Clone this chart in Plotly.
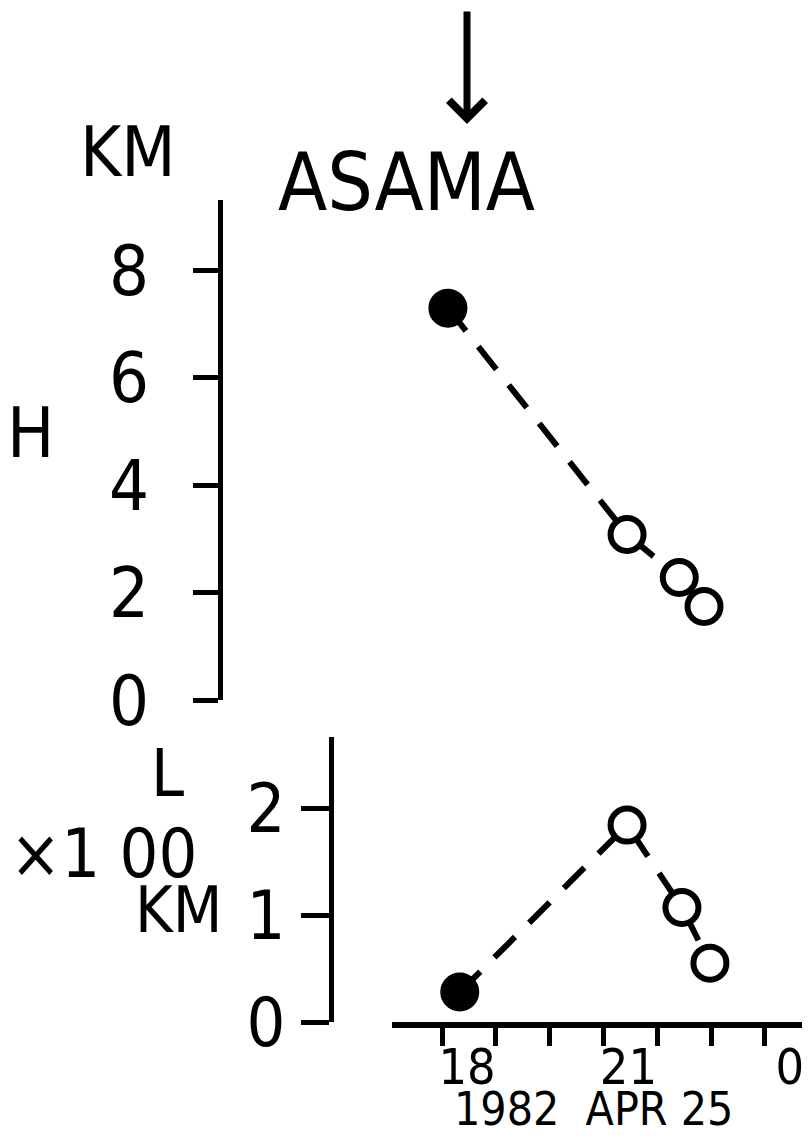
import plotly.graph_objects as go

# The page body has an 8px margin; the figure is sized so the page fits 810x1141
OFF = 8
W, H = 810 - 2 * OFF, 1141 - 2 * OFF

# Data (hours UT on 1982 Apr 25)
h_time = [18.11, 21.44, 22.41, 22.87]
h_km = [7.29, 3.08, 2.28, 1.74]
l_time = [18.33, 21.44, 22.46, 22.98]
l_100km = [0.28, 1.84, 1.07, 0.55]
fill_colors = ["black", "white", "white", "white"]
x_tickvals = [18, 19, 20, 21, 22, 23, 24]
x_ticktext = ["18", "", "", "21", "", "", "0"]
h_ticks = [0, 2, 4, 6, 8]
l_ticks = [0, 1, 2]

FONT = "DejaVu Sans Condensed, DejaVu Sans, sans-serif"


def px(x):
    return (x - OFF) / W


def py(y):
    return 1 - (y - OFF) / H


fig = go.Figure()

marker_common = dict(size=33, line=dict(color="black", width=6))
line_style = dict(color="black", width=6, dash="29px,20px")
fig.add_trace(go.Scatter(
    x=h_time, y=h_km, mode="lines+markers", xaxis="x", yaxis="y",
    line=line_style, marker=dict(color=fill_colors, **marker_common),
    cliponaxis=False,
))
fig.add_trace(go.Scatter(
    x=l_time, y=l_100km, mode="lines+markers", xaxis="x2", yaxis="y2",
    line=line_style, marker=dict(color=fill_colors, **marker_common),
    cliponaxis=False,
))

x_dom = [px(392), 1.0]
x_rng = [18 - (442 - 392) / 53.8, 18 + (810 - OFF - 442) / 53.8]

fig.update_layout(
    width=W, height=H,
    margin=dict(l=0, r=0, t=0, b=0, pad=0, autoexpand=False),
    paper_bgcolor="white", plot_bgcolor="white",
    showlegend=False,
    font=dict(family=FONT, color="black"),
    xaxis=dict(domain=x_dom, range=x_rng, anchor="y", visible=False,
               automargin=False),
    yaxis=dict(
        domain=[py(700), py(200)], range=[0, (700 - 200) / 53.75],
        anchor="free", position=px(220), automargin=False,
        showline=True, linewidth=5, linecolor="black",
        ticks="outside", ticklen=25, tickwidth=5, tickcolor="black",
        tickvals=h_ticks, showgrid=False, zeroline=False,
        tickfont=dict(size=70, family=FONT), ticklabelstandoff=30,
    ),
    xaxis2=dict(
        domain=x_dom, range=x_rng, anchor="y2", automargin=False,
        showline=True, linewidth=6, linecolor="black",
        ticks="outside", ticklen=18, tickwidth=5, tickcolor="black",
        tickvals=x_tickvals, ticktext=x_ticktext,
        showgrid=False, zeroline=False,
        tickfont=dict(size=50, family=FONT), ticklabelshift=25,
        ticklabelstandoff=-22, ticklabeloverflow="allow",
    ),
    yaxis2=dict(
        domain=[py(1022), py(737)], range=[0, (1022 - 737) / 107],
        anchor="free", position=px(331), automargin=False,
        showline=True, linewidth=5, linecolor="black",
        ticks="outside", ticklen=28, tickwidth=5, tickcolor="black",
        tickvals=l_ticks, showgrid=False, zeroline=False,
        tickfont=dict(size=68, family=FONT), ticklabelstandoff=2,
    ),
)

texts = [
    ("KM", 128, 152, 70),
    ("ASAMA", 406, 182, 80),
    ("H", 30, 433, 70),
    ("L", 167, 773, 66),
    ("×1 00", 103, 853, 68),
    ("KM", 178, 910, 64),
    ("1982  APR 25", 593, 1109, 46),
]
for t, x, y, s in texts:
    fig.add_annotation(text=t, x=px(x), y=py(y), xref="paper", yref="paper",
                       showarrow=False, xanchor="center", yanchor="middle",
                       font=dict(size=s, family=FONT, color="black"))

# Arrow pointing down toward ASAMA
fig.add_annotation(text="", x=px(467), y=py(124), xref="paper", yref="paper",
                   ax=0, ay=-114, showarrow=True, arrowhead=4, arrowsize=1.0,
                   arrowwidth=7, arrowcolor="black", standoff=0)

fig.write_html("out.html")
